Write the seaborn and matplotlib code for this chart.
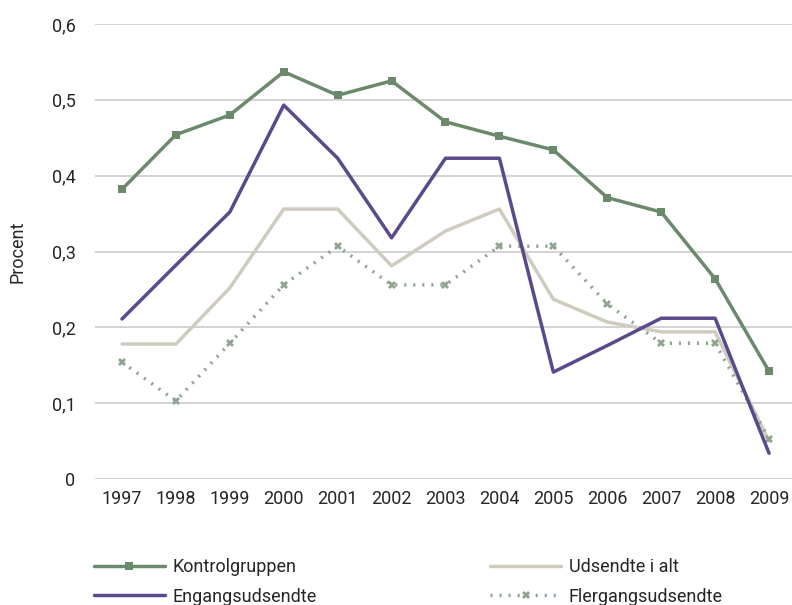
import matplotlib
matplotlib.use('Agg')
import matplotlib.pyplot as plt
import matplotlib.ticker as mticker
import seaborn as sns

sns.set_style('white')
plt.rcParams['font.family'] = ['Roboto', 'DejaVu Sans']

years = list(range(1997, 2010))
kontrol = [0.382, 0.454, 0.480, 0.537, 0.506, 0.525, 0.471, 0.452, 0.434, 0.371, 0.352, 0.264, 0.142]
engang = [0.211, 0.282, 0.352, 0.493, 0.423, 0.318, 0.423, 0.423, 0.141, 0.176, 0.212, 0.212, 0.034]
udsendte = [0.178, 0.178, 0.252, 0.356, 0.356, 0.281, 0.327, 0.356, 0.237, 0.207, 0.194, 0.194, 0.050]
flergang = [0.154, 0.103, 0.179, 0.256, 0.307, 0.256, 0.256, 0.307, 0.307, 0.231, 0.179, 0.179, 0.053]

KCOLOR = '#6B8A6B'
ECOLOR = '#5B4A8B'
UCOLOR = '#CFCBBF'
FCOLOR = '#8FA58F'

fig = plt.figure(figsize=(7.92, 6.05), dpi=100)
ax = fig.add_axes([95 / 792, 126 / 605, 701 / 792, 455 / 605])

sns.lineplot(x=years, y=udsendte, ax=ax, color=UCOLOR, linewidth=2.5, label='Udsendte i alt')
sns.lineplot(x=years, y=flergang, ax=ax, color=FCOLOR, linewidth=2.5, linestyle=(0, (0.6, 2.0)),
             marker='X', markersize=6, markeredgewidth=0, label='Flergangsudsendte')
sns.lineplot(x=years, y=engang, ax=ax, color=ECOLOR, linewidth=2.5, label='Engangsudsendte')
sns.lineplot(x=years, y=kontrol, ax=ax, color=KCOLOR, linewidth=2.5, marker='s', markersize=6,
             markeredgewidth=0, label='Kontrolgruppen')

ax.set_xlim(1996.5, 2009.5)
ax.set_ylim(0, 0.6)
ax.set_xticks(years)
ax.set_xticklabels([str(y) for y in years], fontsize=13)
ax.set_yticks([0, 0.1, 0.2, 0.3, 0.4, 0.5, 0.6])
ax.yaxis.set_major_formatter(mticker.FuncFormatter(
    lambda v, p: '0' if v == 0 else f'{v:.1f}'.replace('.', ',')))
ax.tick_params(axis='y', labelsize=13, length=0, pad=14)
ax.tick_params(axis='x', length=0, pad=8)
ax.grid(axis='y', color='#D0D0D0', linewidth=1.3)
ax.set_axisbelow(True)
for s in ax.spines.values():
    s.set_visible(False)
ax.set_ylabel('Procent', fontsize=13, labelpad=18)
ax.set_xlabel('')

h, l = ax.get_legend_handles_labels()
order = [l.index(n) for n in ['Kontrolgruppen', 'Engangsudsendte', 'Udsendte i alt', 'Flergangsudsendte']]
ax.get_legend().remove()
fig.legend([h[i] for i in order], [l[i] for i in order], ncol=2, frameon=False,
           loc='lower left', bbox_to_anchor=(78 / 792, -17 / 605), fontsize=13,
           handlelength=3.9, columnspacing=9.6, labelspacing=0.65, handletextpad=0.45)

fig.savefig('out.png', dpi=100)
